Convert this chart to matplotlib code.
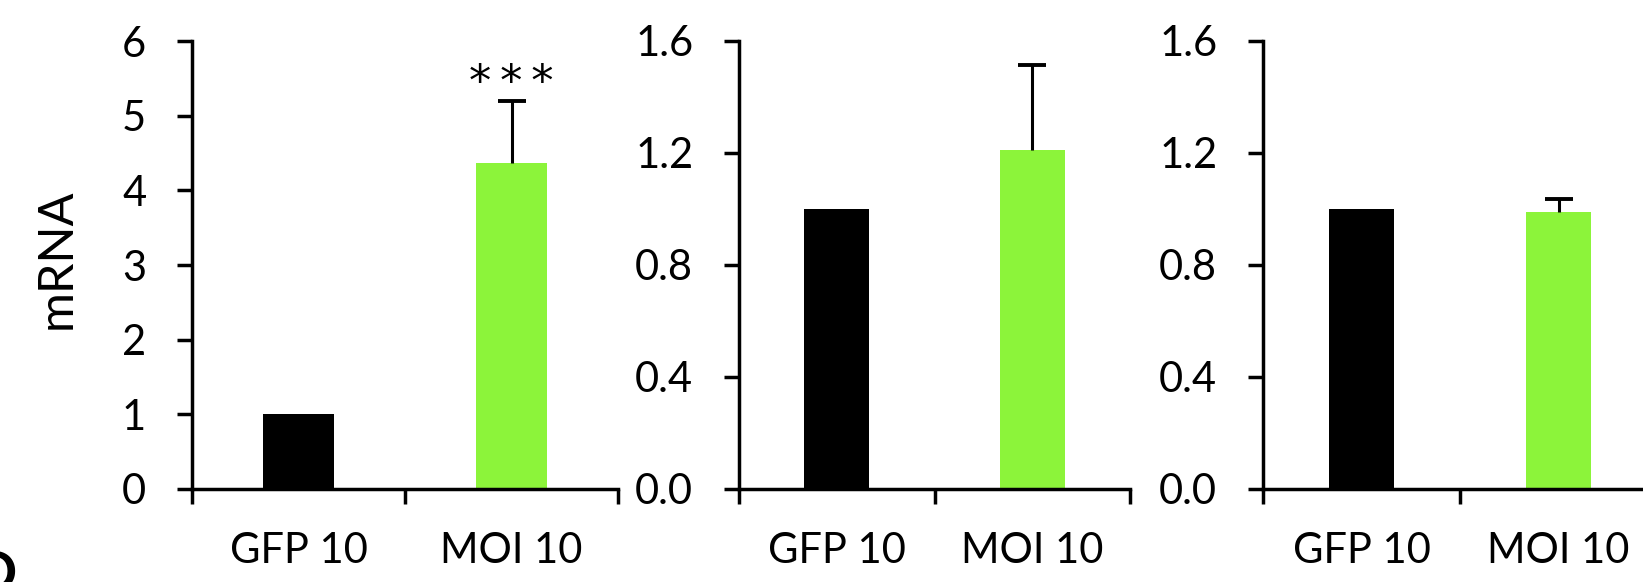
import numpy as np
import matplotlib.pyplot as plt

plt.rcParams['font.family'] = ['Lato', 'DejaVu Sans']

# категории и значения
labels = ['GFP 10', 'MOI 10']
p1_vals = [1.0, 4.37]
p1_err = [0.0, 0.83]
p2_vals = [1.0, 1.21]
p2_err = [0.0, 0.305]
p3_vals = [1.0, 0.99]
p3_err = [0.0, 0.045]

y1_ticks = [0, 1, 2, 3, 4, 5, 6]
y1_labels = ['0', '1', '2', '3', '4', '5', '6']
y2_ticks = [0.0, 0.4, 0.8, 1.2, 1.6]
y2_labels = ['0.0', '0.4', '0.8', '1.2', '1.6']

colors = ['black', '#8cf43a']

W, H = 1643, 582
fig = plt.figure(figsize=(W / 100, H / 100), dpi=100)

# позиции осей в пикселях: левый край, правый край
boxes = [(192, 618), (739, 1130), (1263, 1657)]
top_px, bot_px = 41, 489

panels = [
    (p1_vals, p1_err, 6, y1_ticks, y1_labels),
    (p2_vals, p2_err, 1.6, y2_ticks, y2_labels),
    (p3_vals, p3_err, 1.6, y2_ticks, y2_labels),
]

axes = []
for (l, r), (vals, err, ymax, yt, yl) in zip(boxes, panels):
    ax = fig.add_axes([l / W, 1 - bot_px / H, (r - l) / W, (bot_px - top_px) / H])
    x = np.arange(len(labels))
    ax.bar(x, vals, width=0.33, color=colors)
    _, caps, _ = ax.errorbar(x[1:], vals[1:], yerr=[[0], err[1:]], fmt='none',
                             ecolor='black', elinewidth=2.2, capsize=10, capthick=2.8)
    caps[0].set_visible(False)
    ax.set_xlim(-0.5, 1.5)
    ax.set_ylim(0, ymax)
    ax.set_yticks(yt)
    ax.set_yticklabels(yl)
    ax.set_xticks([-0.5, 0.5, 1.5])
    ax.set_xticklabels([])
    ax.set_xticks(x, minor=True)
    ax.set_xticklabels(labels, minor=True)
    ax.tick_params(axis='x', which='major', length=10.5, width=2.5, direction='out')
    ax.tick_params(axis='x', which='minor', length=0, pad=31, labelsize=30)
    ax.tick_params(axis='y', length=11, width=2.5, direction='out', pad=22, labelsize=30)
    for s in ['top', 'right']:
        ax.spines[s].set_visible(False)
    for s in ['left', 'bottom']:
        ax.spines[s].set_linewidth(2.5)
    axes.append(ax)

axes[0].text(1, 5.27, '*\u2009*\u2009*', ha='center', va='baseline', fontsize=32,
             family='DejaVu Sans')

fig.text(57 / W, 1 - 259 / H, 'mRNA', rotation=90, ha='center', va='center', fontsize=35)
fig.text(17 / W, 1 - 550 / H, 'D', ha='right', va='top', fontsize=40, fontweight='bold')

fig.savefig('out.png', dpi=100)
